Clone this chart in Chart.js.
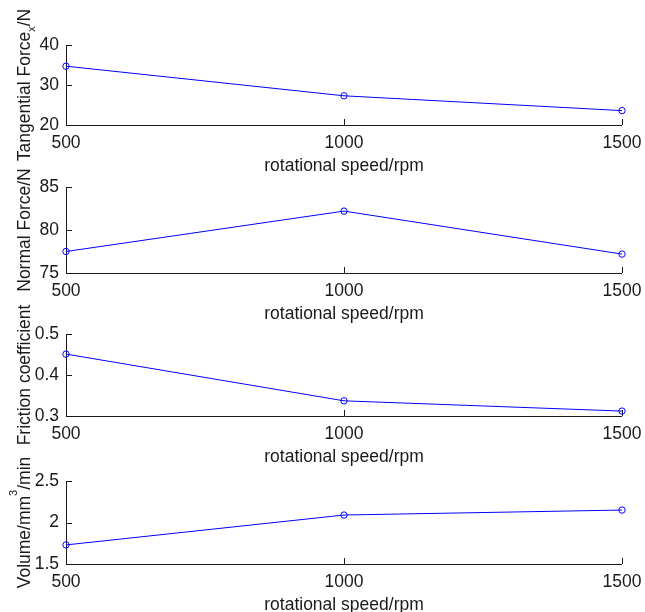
<!DOCTYPE html>
<html>
<head>
<meta charset="utf-8">
<script src="https://cdn.jsdelivr.net/npm/chart.js@4/dist/chart.umd.min.js"></script>
<style>
  body { margin: 0; background: #fff; }
  #wrap { position: relative; width: 645px; height: 612px; }
  #wrap canvas { position: absolute; left: 0; top: 0; }
</style>
</head>
<body>
<div id="wrap">
  <canvas id="c1" width="645" height="612"></canvas>
  <canvas id="c2" width="645" height="612"></canvas>
  <canvas id="c3" width="645" height="612"></canvas>
  <canvas id="c4" width="645" height="612"></canvas>
</div>
<script>
// data
const speeds = [500, 1000, 1500];
const tangentialForce = [34.7, 27.3, 23.6];
const normalForce = [77.5, 82.2, 77.2];
const frictionCoef = [0.451, 0.337, 0.312];
const wearVolume = [1.73, 2.09, 2.15];

// axis ticks
const xTicks = [500, 1000, 1500];
const yTicks1 = [20, 30, 40];
const yTicks2 = [75, 80, 85];
const yTicks3 = [0.3, 0.4, 0.5];
const yTicks4 = [1.5, 2, 2.5];

const xTitle = 'rotational speed/rpm';
const FONT = '"Liberation Sans", Arial, Helvetica, sans-serif';
const FSIZE = 17.5;
const X_AXIS_H = 52;
const INK = '#1a1a1a';

// y titles: list of [text, 'n' | 'sub' | 'sup']
const yTitle1 = [['Tangential Force', 'n'], ['x', 'sub'], ['/N', 'n']];
const yTitle2 = [['Normal Force/N', 'n']];
const yTitle3 = [['Friction coefficient', 'n']];
const yTitle4 = [['Volume/mm', 'n'], ['3', 'sup'], ['/min', 'n']];

// MATLAB-like axes: left + bottom line, ticks pointing inward, rotated y title
const axesPlugin = {
    id: 'matlabAxes',
    beforeDatasetsDraw(chart) {
        const ctx = chart.ctx;
        const a = chart.chartArea;
        const xs = chart.scales.x, ys = chart.scales.y;
        ctx.save();
        ctx.strokeStyle = INK;
        ctx.lineWidth = 1;
        ctx.beginPath();
        ctx.moveTo(Math.round(a.left) + 0.5, a.top);
        ctx.lineTo(Math.round(a.left) + 0.5, Math.round(a.bottom) + 0.5);
        ctx.lineTo(a.right, Math.round(a.bottom) + 0.5);
        ys.ticks.forEach(t => {
            const y = Math.round(ys.getPixelForValue(t.value)) + 0.5;
            ctx.moveTo(a.left, y);
            ctx.lineTo(a.left + 6, y);
        });
        xs.ticks.forEach(t => {
            const x = Math.round(xs.getPixelForValue(t.value)) + 0.5;
            ctx.moveTo(x, a.bottom);
            ctx.lineTo(x, a.bottom - 6);
        });
        ctx.stroke();
        ctx.restore();
    },
    afterDraw(chart, args, opts) {
        const parts = opts.title;
        if (!parts) return;
        const ctx = chart.ctx;
        const a = chart.chartArea;
        const big = FSIZE + 'px ' + FONT, small = '11px ' + FONT;
        ctx.save();
        let total = 0;
        parts.forEach(p => {
            ctx.font = p[1] === 'n' ? big : small;
            total += ctx.measureText(p[0]).width;
        });
        ctx.translate(30, (a.top + a.bottom) / 2);
        ctx.rotate(-Math.PI / 2);
        ctx.fillStyle = INK;
        ctx.textBaseline = 'alphabetic';
        let x = -total / 2;
        parts.forEach(p => {
            ctx.font = p[1] === 'n' ? big : small;
            const dy = p[1] === 'sub' ? 5 : (p[1] === 'sup' ? -13 : 0);
            ctx.fillText(p[0], x, dy);
            x += ctx.measureText(p[0]).width;
        });
        ctx.restore();
    }
};

function makeChart(id, values, yTicks, title, areaTop, areaBottom) {
    const pts = speeds.map((s, i) => ({ x: s, y: values[i] }));
    return new Chart(document.getElementById(id), {
        type: 'line',
        data: {
            datasets: [{
                data: pts,
                borderColor: '#0000ff',
                borderWidth: 1,
                pointRadius: 3.2,
                pointBorderWidth: 1,
                pointBorderColor: '#0000ff',
                pointBackgroundColor: 'rgba(0,0,0,0)',
                tension: 0,
                clip: false
            }]
        },
        options: {
            responsive: false,
            animation: false,
            events: [],
            layout: {
                padding: { top: areaTop, bottom: 612 - areaBottom - X_AXIS_H, left: 0, right: 23 }
            },
            plugins: {
                legend: { display: false },
                tooltip: { enabled: false },
                matlabAxes: { title: title }
            },
            scales: {
                x: {
                    type: 'linear',
                    min: xTicks[0],
                    max: xTicks[xTicks.length - 1],
                    afterBuildTicks: (s) => { s.ticks = xTicks.map(v => ({ value: v })); },
                    afterFit: (s) => {
                        s.height = X_AXIS_H;
                        s.paddingLeft = 0;
                        s.paddingRight = 0;
                    },
                    grid: { display: false, drawTicks: false },
                    border: { display: false },
                    ticks: {
                        padding: 8,
                        color: INK,
                        font: { family: FONT, size: FSIZE },
                        maxRotation: 0,
                        callback: (v) => String(v)
                    },
                    title: {
                        display: true,
                        text: xTitle,
                        color: INK,
                        padding: { top: 0, bottom: 0 },
                        font: { family: FONT, size: FSIZE }
                    }
                },
                y: {
                    min: yTicks[0],
                    max: yTicks[yTicks.length - 1],
                    afterBuildTicks: (s) => { s.ticks = yTicks.map(v => ({ value: v })); },
                    afterFit: (s) => {
                        s.width = 66;
                        s.paddingTop = 0;
                        s.paddingBottom = 0;
                    },
                    grid: { display: false, drawTicks: false },
                    border: { display: false },
                    ticks: {
                        padding: 7,
                        color: INK,
                        font: { family: FONT, size: FSIZE },
                        callback: (v) => String(v)
                    }
                }
            }
        },
        plugins: [axesPlugin]
    });
}

makeChart('c1', tangentialForce, yTicks1, yTitle1, 45, 125);
makeChart('c2', normalForce, yTicks2, yTitle2, 187, 273);
makeChart('c3', frictionCoef, yTicks3, yTitle3, 334, 416);
makeChart('c4', wearVolume, yTicks4, yTitle4, 481, 564);
</script>
</body>
</html>
